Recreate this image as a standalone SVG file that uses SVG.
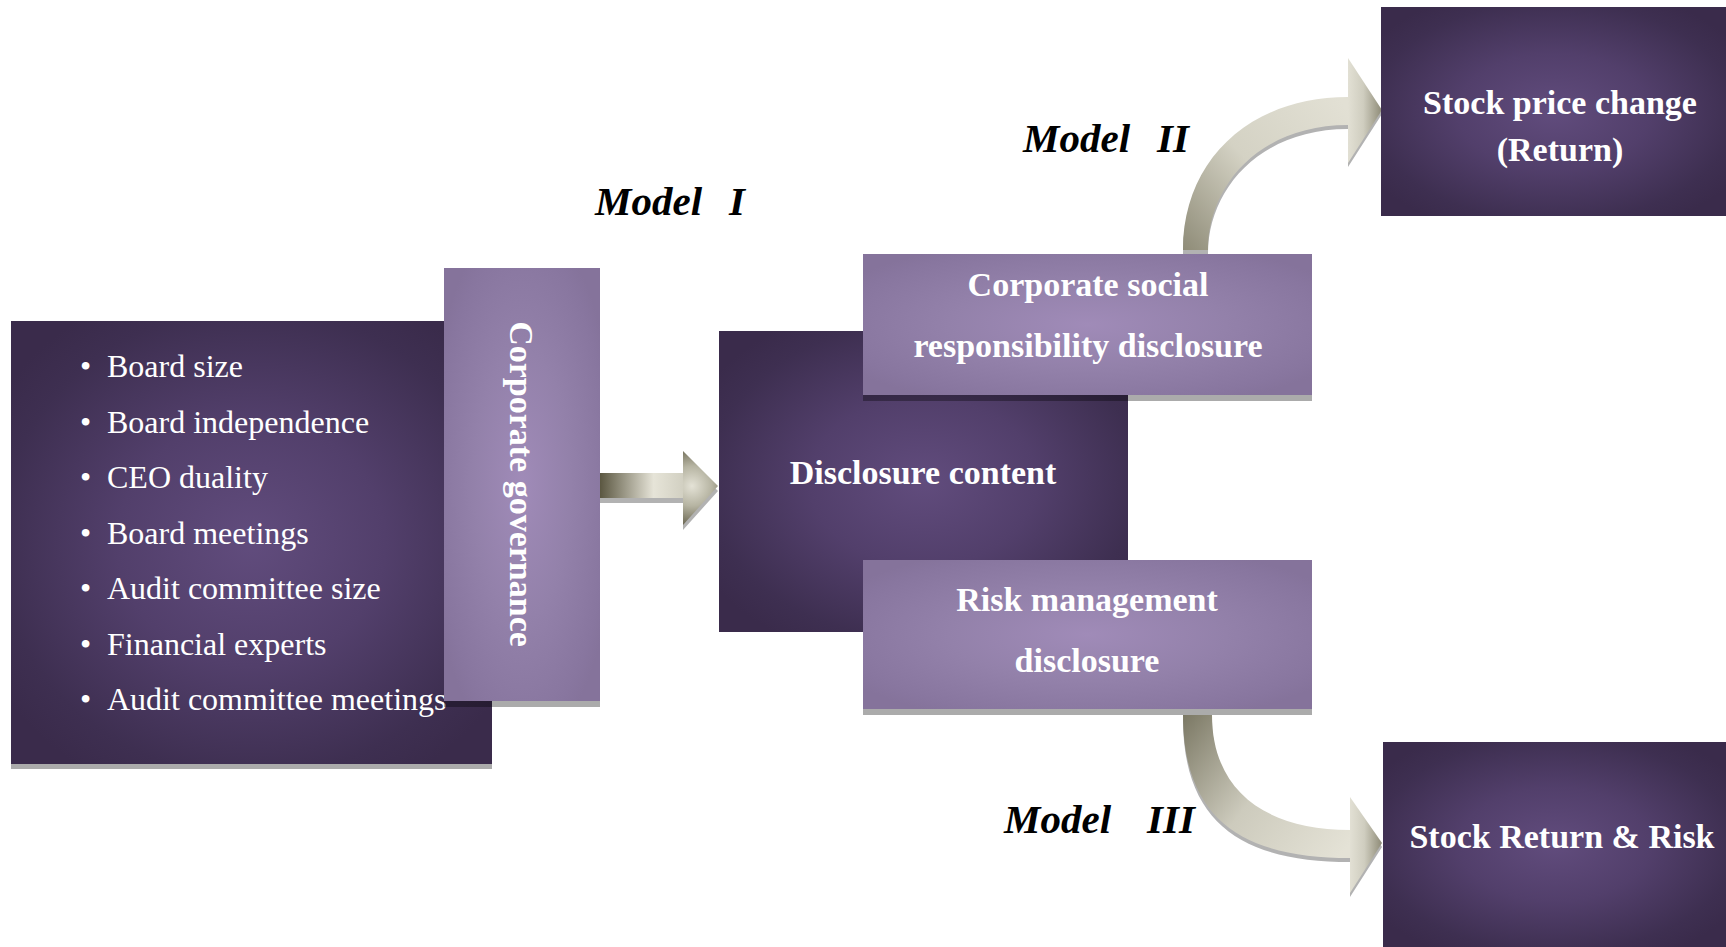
<svg xmlns="http://www.w3.org/2000/svg" width="1726" height="947" viewBox="0 0 1726 947">
<defs>
<radialGradient id="darkG" cx="0.5" cy="0.5" r="0.62">
<stop offset="0" stop-color="#614c7d"/>
<stop offset="0.45" stop-color="#523f6b"/>
<stop offset="0.85" stop-color="#3e2f51"/>
<stop offset="1" stop-color="#3a2b4b"/>
</radialGradient>
<radialGradient id="lightG" cx="0.5" cy="0.5" r="0.62">
<stop offset="0" stop-color="#a08bb8"/>
<stop offset="0.5" stop-color="#9381aa"/>
<stop offset="0.9" stop-color="#88769f"/>
<stop offset="1" stop-color="#85739b"/>
</radialGradient>
<linearGradient id="shaft1" gradientUnits="userSpaceOnUse" x1="599" y1="0" x2="683" y2="0">
<stop offset="0" stop-color="#58543e"/>
<stop offset="0.65" stop-color="#e6e4d8"/>
<stop offset="1" stop-color="#d2d0c2"/>
</linearGradient>
<radialGradient id="head1" gradientUnits="userSpaceOnUse" cx="692" cy="486" r="40">
<stop offset="0" stop-color="#e4e2d6"/>
<stop offset="0.5" stop-color="#b6b4a2"/>
<stop offset="1" stop-color="#6a6651"/>
</radialGradient>
<linearGradient id="curve2" gradientUnits="userSpaceOnUse" x1="1183" y1="254" x2="1348" y2="110">
<stop offset="0" stop-color="#8d8a76"/>
<stop offset="0.5" stop-color="#d4d2c4"/>
<stop offset="1" stop-color="#e2e0d4"/>
</linearGradient>
<linearGradient id="curve3" gradientUnits="userSpaceOnUse" x1="1183" y1="715" x2="1350" y2="844">
<stop offset="0" stop-color="#7b7864"/>
<stop offset="0.5" stop-color="#cdcbbd"/>
<stop offset="1" stop-color="#e4e2d6"/>
</linearGradient>
<linearGradient id="headH" x1="0" y1="0" x2="1" y2="0">
<stop offset="0" stop-color="#e2e0d4"/>
<stop offset="0.45" stop-color="#cfcdbf"/>
<stop offset="1" stop-color="#8e8b77"/>
</linearGradient>
</defs>
<style>
.dark{fill:url(#darkG)}
.light{fill:url(#lightG)}
.shadow{fill:#000;fill-opacity:0.33}
.ashadow{fill:#000;fill-opacity:0.3}
.bul{font-family:'Liberation Serif','Times New Roman',serif;font-size:32px;fill:#ffffff}
.lbl{font-family:'Liberation Serif','Times New Roman',serif;font-size:34px;font-weight:bold;fill:#ffffff;text-anchor:middle}
.model{font-family:'Liberation Serif','Times New Roman',serif;font-size:41px;font-weight:bold;font-style:italic;fill:#000000}
</style>
<rect width="1726" height="947" fill="#ffffff"/>

<g id="connectors">
<g id="arrow-model-1">
<path class="ashadow" transform="translate(0,5)" d="M599,473 L683,473 L683,451 L718,486 L683,525 L683,498 L599,498 Z"/>
<rect x="599" y="473" width="85" height="25" fill="url(#shaft1)"/>
<path d="M683,451 L718,486 L683,525 Z" fill="url(#head1)"/>
</g>
<g id="arrow-model-2">
<path class="ashadow" transform="translate(0,4)" d="M1183,250 C1183,160 1250,97 1348,97 L1348,58 L1382,110 L1348,163 L1348,125 C1260,125 1208,185 1208,250 Z"/>
<path d="M1183,250 C1183,160 1250,97 1348,97 L1349,97 L1349,125 L1348,125 C1260,125 1208,185 1208,250 Z" fill="url(#curve2)"/>
<path d="M1348,58 L1382,110 L1348,163 Z" fill="url(#headH)"/>
</g>
<g id="arrow-model-3">
<path class="ashadow" transform="translate(0,4)" d="M1183,715 C1183,825 1250,858 1350,858 L1350,893 L1382,843 L1350,797 L1350,830 C1265,830 1212,790 1212,715 Z"/>
<path d="M1183,715 C1183,825 1250,858 1350,858 L1351,858 L1351,830 L1350,830 C1265,830 1212,790 1212,715 Z" fill="url(#curve3)"/>
<path d="M1350,797 L1382,843 L1350,893 Z" fill="url(#headH)"/>
</g>
<text class="model" x="595" y="215">Model <tspan x="729">I</tspan></text>
<text class="model" x="1023" y="152">Model <tspan x="1157">II</tspan></text>
<text class="model" x="1004" y="833">Model <tspan x="1147">III</tspan></text>
</g>

<g id="node-governance-items">
<rect class="shadow" x="11" y="326" width="481" height="443"/>
<rect class="dark" x="11" y="321" width="481" height="443"/>
<g class="bul">
<text x="80" y="377">•</text><text x="107" y="377">Board size</text>
<text x="80" y="433">•</text><text x="107" y="433">Board independence</text>
<text x="80" y="488">•</text><text x="107" y="488">CEO duality</text>
<text x="80" y="544">•</text><text x="107" y="544">Board meetings</text>
<text x="80" y="599">•</text><text x="107" y="599">Audit committee size</text>
<text x="80" y="655">•</text><text x="107" y="655">Financial experts</text>
<text x="80" y="710">•</text><text x="107" y="710">Audit committee meetings</text>
</g>
</g>

<g id="node-corporate-governance">
<rect class="shadow" x="444" y="274" width="156" height="433"/>
<rect class="light" x="444" y="268" width="156" height="433"/>
<text class="lbl" transform="translate(510,484) rotate(90)" x="0" y="0">Corporate governance</text>
</g>

<g id="node-disclosure-content">
<rect class="dark" x="719" y="331" width="409" height="301"/>
<text class="lbl" x="923" y="484">Disclosure content</text>
</g>

<g id="node-csr-disclosure">
<rect class="shadow" x="863" y="260" width="449" height="141"/>
<rect class="light" x="863" y="254" width="449" height="141"/>
<text class="lbl" x="1088" y="296">Corporate social</text>
<text class="lbl" x="1088" y="357">responsibility disclosure</text>
</g>

<g id="node-risk-disclosure">
<rect class="shadow" x="863" y="566" width="449" height="149"/>
<rect class="light" x="863" y="560" width="449" height="149"/>
<text class="lbl" x="1087" y="611">Risk management</text>
<text class="lbl" x="1087" y="672">disclosure</text>
</g>

<g id="node-stock-price-change">
<rect class="dark" x="1381" y="7" width="345" height="209"/>
<text class="lbl" x="1560" y="114">Stock price change</text>
<text class="lbl" x="1560" y="161">(Return)</text>
</g>

<g id="node-stock-return-risk">
<rect class="dark" x="1383" y="742" width="343" height="205"/>
<text class="lbl" x="1562" y="848">Stock Return &amp; Risk</text>
</g>
</svg>
